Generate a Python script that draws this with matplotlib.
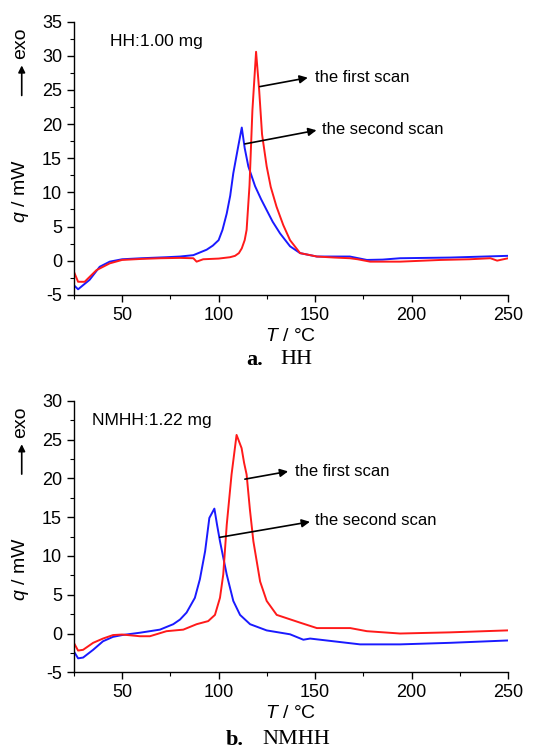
import matplotlib
matplotlib.use('Agg')
import matplotlib.pyplot as plt
from matplotlib.ticker import MultipleLocator

plt.rcParams['font.family'] = ['Liberation Sans', 'DejaVu Sans']
plt.rcParams['axes.unicode_minus'] = False
plt.rcParams['mathtext.fontset'] = 'custom'
plt.rcParams['mathtext.it'] = 'Liberation Sans:italic'
plt.rcParams['mathtext.rm'] = 'Liberation Sans'

# HH, first scan (red)
hh_first_T = [25, 27.2, 30.6, 36.7, 43.6, 50, 60, 70, 80, 86.9, 88.6, 92, 100, 105.9, 108.5,
              110.5, 112, 113.5, 114.5, 116, 117.5, 119.4, 121, 122.5, 124.9, 127, 130, 133.5,
              137, 142.2, 150.9, 160, 168, 172, 178.5, 194, 215, 230, 240.8, 244.3, 250]
hh_first_q = [-1.6, -3.1, -3.1, -1.4, -0.4, 0.1, 0.25, 0.35, 0.4, 0.35, -0.15, 0.2, 0.3, 0.5, 0.7,
              1.1, 1.8, 3.0, 4.5, 11.0, 22.0, 30.6, 25.0, 18.5, 13.8, 10.8, 7.9, 5.2,
              3.0, 1.1, 0.6, 0.45, 0.35, 0.2, -0.15, -0.15, 0.1, 0.2, 0.35, 0.0, 0.35]

# HH, second scan (blue)
hh_second_T = [25, 27.2, 33.2, 38.4, 43.6, 50, 60, 73, 80, 86.9, 93.8, 97, 100, 102, 104.2,
               106, 107.6, 110, 112, 113.5, 115.4, 118.9, 122, 124.9, 128, 131.8, 137, 142.2,
               150.9, 160, 168, 176.8, 185, 194, 220, 249.5]
hh_second_q = [-3.6, -4.2, -2.8, -0.9, -0.15, 0.2, 0.35, 0.5, 0.6, 0.8, 1.6, 2.2, 3.0, 4.5, 6.9,
               9.5, 12.8, 16.5, 19.5, 16.5, 13.8, 10.9, 9.0, 7.4, 5.7, 4.0, 2.1, 1.1,
               0.6, 0.6, 0.6, 0.1, 0.15, 0.35, 0.45, 0.7]

# NMHH, first scan (red)
nm_first_T = [25, 27.2, 29.8, 35, 40.1, 45.3, 50, 59.2, 64.4, 73, 81.7, 88.6, 94.6, 98.1,
              100.7, 102.4, 104.2, 106.7, 109.3, 111.9, 113.2, 114.5, 116.2, 118, 121.5, 124.9,
              130.1, 142.2, 150.9, 168.2, 176.8, 194, 220, 249.5]
nm_first_q = [-1.2, -2.2, -2.1, -1.2, -0.65, -0.2, -0.13, -0.35, -0.35, 0.3, 0.5, 1.2, 1.6, 2.4,
              4.6, 7.6, 14.0, 20.5, 25.6, 23.9, 22.0, 20.5, 16.0, 11.9, 6.7, 4.2,
              2.4, 1.4, 0.7, 0.7, 0.3, 0.0, 0.15, 0.4]

# NMHH, second scan (blue)
nm_second_T = [25, 27.2, 29.8, 35, 40.1, 45.3, 50, 59.2, 69.6, 76.5, 80, 83.4, 87.7, 90.3,
               93, 95.2, 97.8, 99.2, 100.7, 104.2, 107.6, 111.1, 116.3, 124.9, 137, 143.9,
               147.4, 159.5, 173.3, 194, 220, 249.5]
nm_second_q = [-2.3, -3.2, -3.1, -2.1, -1.0, -0.43, -0.2, 0.1, 0.5, 1.2, 1.8, 2.7, 4.6, 7.0,
               10.6, 14.9, 16.1, 14.0, 11.9, 7.6, 4.2, 2.4, 1.2, 0.4, -0.1, -0.8,
               -0.65, -1.0, -1.4, -1.4, -1.2, -0.9]

xticks = [50, 100, 150, 200, 250]

fig = plt.figure(figsize=(5.47, 7.5), dpi=100)
ax1 = fig.add_axes([0.135, 0.607, 0.794, 0.364])
ax2 = fig.add_axes([0.135, 0.1036, 0.794, 0.362])

panels = [
    (ax1, hh_first_T, hh_first_q, hh_second_T, hh_second_q, (-5, 35), 'HH:1.00 mg', (43.6, 32.1),
     ((121.4, 25.5), (146.2, 26.8), (149.9, 26.9)), ((113.6, 17.1), (150.7, 19.1), (153.3, 19.2)),
     'a.', 'HH', (0.435, 0.475, -0.238)),
    (ax2, nm_first_T, nm_first_q, nm_second_T, nm_second_q, (-5, 30), 'NMHH:1.22 mg', (34.2, 27.5),
     ((113.6, 19.9), (136.0, 20.9), (139.5, 20.9)), ((100.6, 12.4), (147.3, 14.4), (149.9, 14.6)),
     'b.', 'NMHH', (0.39, 0.433, -0.249)),
]

for ax, t1, q1, t2, q2, ylim, label, lpos, ann1, ann2, letter, name, cap in panels:
    ax.plot(t2, q2, color='#1a1aff', lw=1.4)
    ax.plot(t1, q1, color='#ff1a1a', lw=1.4)
    ax.set_xlim(25, 250)
    ax.set_ylim(*ylim)
    ax.set_xticks(xticks)
    ax.yaxis.set_major_locator(MultipleLocator(5))
    ax.yaxis.set_minor_locator(MultipleLocator(2.5))
    ax.xaxis.set_minor_locator(MultipleLocator(25))
    for s in ['top', 'right']:
        ax.spines[s].set_visible(False)
    for s in ['left', 'bottom']:
        ax.spines[s].set_linewidth(1.0)
    ax.tick_params(which='major', direction='out', length=5, width=1.0, labelsize=13)
    ax.tick_params(which='minor', direction='out', length=3, width=0.8)
    ax.text(lpos[0], lpos[1], label, fontsize=12.5, va='center', ha='left')
    for (start, end, tpos), txt in [(ann1, 'the first scan'), (ann2, 'the second scan')]:
        ax.annotate('', xy=end, xytext=start,
                    arrowprops=dict(arrowstyle='-|>', color='black', lw=1.2,
                                    mutation_scale=12, shrinkA=0, shrinkB=0))
        ax.text(tpos[0], tpos[1], txt, fontsize=12, va='center', ha='left')
    ax.set_xlabel(r'$\it{T}$ / °C', fontsize=14, labelpad=3)
    ax.text(-0.123, 0.38, r'$\it{q}$ / mW', transform=ax.transAxes, rotation=90,
            fontsize=14, ha='center', va='center')
    ax.text(-0.123, 0.92, 'exo', transform=ax.transAxes, rotation=90,
            fontsize=14, ha='center', va='center')
    ax.annotate('', xy=(-0.12, 0.84), xytext=(-0.12, 0.73),
                xycoords='axes fraction',
                arrowprops=dict(arrowstyle='-|>', color='black', lw=1.2,
                                mutation_scale=10, shrinkA=0, shrinkB=0))
    ax.text(cap[0], cap[2], letter, transform=ax.transAxes, fontsize=16, fontweight='bold',
            family='Liberation Serif', ha='right', va='center')
    ax.text(cap[1], cap[2], name, transform=ax.transAxes, fontsize=16,
            family='Liberation Serif', ha='left', va='center')

fig.savefig('out.png', dpi=100)
